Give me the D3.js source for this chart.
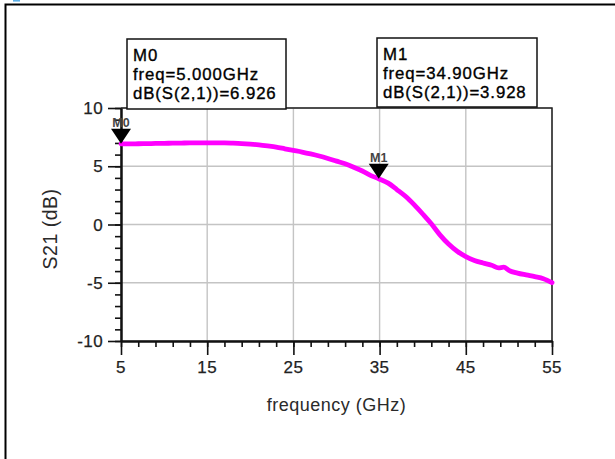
<!DOCTYPE html>
<html>
<head>
<meta charset="utf-8">
<script src="https://cdn.jsdelivr.net/npm/d3@7/dist/d3.min.js"></script>
<style>
  html, body { margin: 0; padding: 0; background: #fff; }
  svg { display: block; font-family: "Liberation Sans", Arial, sans-serif; }
</style>
</head>
<body>
<svg id="chart" width="615" height="459"></svg>
<script>
// ---- data ----
const freqGHz = [5,6,7,8,9,10,11,12,13,14,15,16,17,18,19,20,21,22,23,24,25,26,27,28,29,30,31,32,33,34,34.9,36,37,38,39,40,41,42,43,44,45,46,47,48,48.8,49.4,50,51,52,53,54,55];
const s21dB   = [6.926,6.92,6.93,6.94,6.96,6.97,6.98,6.99,7.0,7.0,7.0,7.0,7.0,6.98,6.95,6.90,6.83,6.74,6.64,6.50,6.36,6.22,6.06,5.88,5.67,5.44,5.21,4.92,4.59,4.20,3.928,3.55,3.0,2.42,1.70,0.90,0.06,-0.89,-1.68,-2.30,-2.75,-3.08,-3.30,-3.50,-3.73,-3.66,-3.94,-4.17,-4.33,-4.48,-4.65,-4.99];

const xMajorTicks = [5,15,25,35,45,55];
const yMajorTicks = [-10,-5,0,5,10];
const xMinorTicks = d3.range(5, 55.01, 2);
const yMinorTicks = d3.range(-10, 10.01, 1);

const markerNames = ["M0","M1"];
const markerFreq  = [5.0, 34.9];
const markerValue = [6.926, 3.928];

const xTitle = "frequency (GHz)";
const yTitle = "S21 (dB)";

// ---- layout ----
const L = 121, R = 552, T = 108, B = 341;
const svg = d3.select("#chart");
const x = d3.scaleLinear().domain([5,55]).range([L,R]);
const y = d3.scaleLinear().domain([-10,10]).range([B,T]);

// outer frame
svg.append("path").attr("d", "M5.5,459 L5.5,4.5 L615,4.5")
  .attr("fill","none").attr("stroke","#000").attr("stroke-width",2);
svg.append("rect").attr("x",13).attr("y",0).attr("width",7).attr("height",1.6).attr("fill","#5aaee6");

// gridlines
const grid = svg.append("g").attr("stroke","#c4c4c4").attr("stroke-width",1.4);
xMajorTicks.forEach(v => grid.append("line").attr("x1",x(v)).attr("x2",x(v)).attr("y1",T).attr("y2",B));
yMajorTicks.forEach(v => grid.append("line").attr("x1",L).attr("x2",R).attr("y1",y(v)).attr("y2",y(v)));

// plot top & right border
svg.append("path").attr("d", `M${L},${T} L${R},${T} L${R},${B}`)
  .attr("fill","none").attr("stroke","#222").attr("stroke-width",1.5);

// axes
const axisStyle = g => { g.select(".domain").attr("stroke","#111").attr("stroke-width",2);
  g.selectAll(".tick line").attr("stroke","#111").attr("stroke-width",1.6); g.selectAll("text").remove(); };

svg.append("g").attr("transform",`translate(0,${B})`)
  .call(d3.axisBottom(x).tickValues(xMinorTicks).tickSize(6).tickSizeOuter(0)).call(axisStyle);
svg.append("g").attr("transform",`translate(0,${B})`)
  .call(d3.axisBottom(x).tickValues(xMajorTicks).tickSize(14).tickSizeOuter(0)).call(axisStyle);
svg.append("g").attr("transform",`translate(${L},0)`)
  .call(d3.axisLeft(y).tickValues(yMinorTicks).tickSize(6).tickSizeOuter(0)).call(axisStyle);
svg.append("g").attr("transform",`translate(${L},0)`)
  .call(d3.axisLeft(y).tickValues(yMajorTicks).tickSize(13).tickSizeOuter(0)).call(axisStyle);

// tick labels
svg.append("g").selectAll("text").data(xMajorTicks).join("text")
  .attr("x", d => x(d)).attr("y", B + 32).attr("text-anchor","middle")
  .attr("font-size",17).attr("letter-spacing",0.4).attr("fill","#222")
  .attr("stroke","#222").attr("stroke-width",0.25).text(d => d);
svg.append("g").selectAll("text").data(yMajorTicks).join("text")
  .attr("x", L - 18).attr("y", d => y(d) + 6).attr("text-anchor","end")
  .attr("font-size",17).attr("letter-spacing",0.4).attr("fill","#222")
  .attr("stroke","#222").attr("stroke-width",0.25).text(d => d);

// axis titles
svg.append("text").attr("x",(L+R)/2).attr("y",411).attr("text-anchor","middle")
  .attr("font-size",18).attr("letter-spacing",0.5).attr("fill","#2a2a2a").text(xTitle);
svg.append("text").attr("transform","translate(57,229) rotate(-90)").attr("text-anchor","middle")
  .attr("font-size",19.5).attr("letter-spacing",0.5).attr("fill","#2a2a2a").text(yTitle);

// curve
const pts = freqGHz.map((f,i) => [f, s21dB[i]]);
svg.append("path").datum(pts)
  .attr("d", d3.line().x(d => x(d[0])).y(d => y(d[1])).curve(d3.curveMonotoneX))
  .attr("fill","none").attr("stroke","#ff00ff").attr("stroke-width",4.8)
  .attr("stroke-linecap","round").attr("stroke-linejoin","round");

// markers on curve
markerNames.forEach((name,i) => {
  const mx = x(markerFreq[i]), my = y(markerValue[i]);
  svg.append("path").attr("d", `M${mx},${my} L${mx-10},${my-15} L${mx+10},${my-15} Z`).attr("fill","#000");
  svg.append("text").attr("x",mx).attr("y",my-17).attr("text-anchor","middle")
    .attr("font-size",12.5).attr("font-weight","bold").attr("fill","#444").text(name);
});

// marker readout boxes
const boxPos = [[127,39,159,70],[377,38,160,69]];
const fmtF = d3.format(".4r"), fmtV = d3.format(".3f");
markerNames.forEach((name,i) => {
  const [bx,by,bw,bh] = boxPos[i];
  const g = svg.append("g");
  g.append("rect").attr("x",bx).attr("y",by).attr("width",bw).attr("height",bh)
    .attr("fill","#fff").attr("stroke","#111").attr("stroke-width",1.5);
  const lines = [name, `freq=${fmtF(markerFreq[i])}GHz`, `dB(S(2,1))=${fmtV(markerValue[i])}`];
  const offs = [22, 41, 60];
  lines.forEach((t,j) => g.append("text").attr("x",bx+6).attr("y",by+offs[j])
    .attr("font-size",16.8).attr("letter-spacing",0.9).attr("fill","#000")
    .attr("stroke","#000").attr("stroke-width",0.35).text(t));
});
</script>
</body>
</html>
